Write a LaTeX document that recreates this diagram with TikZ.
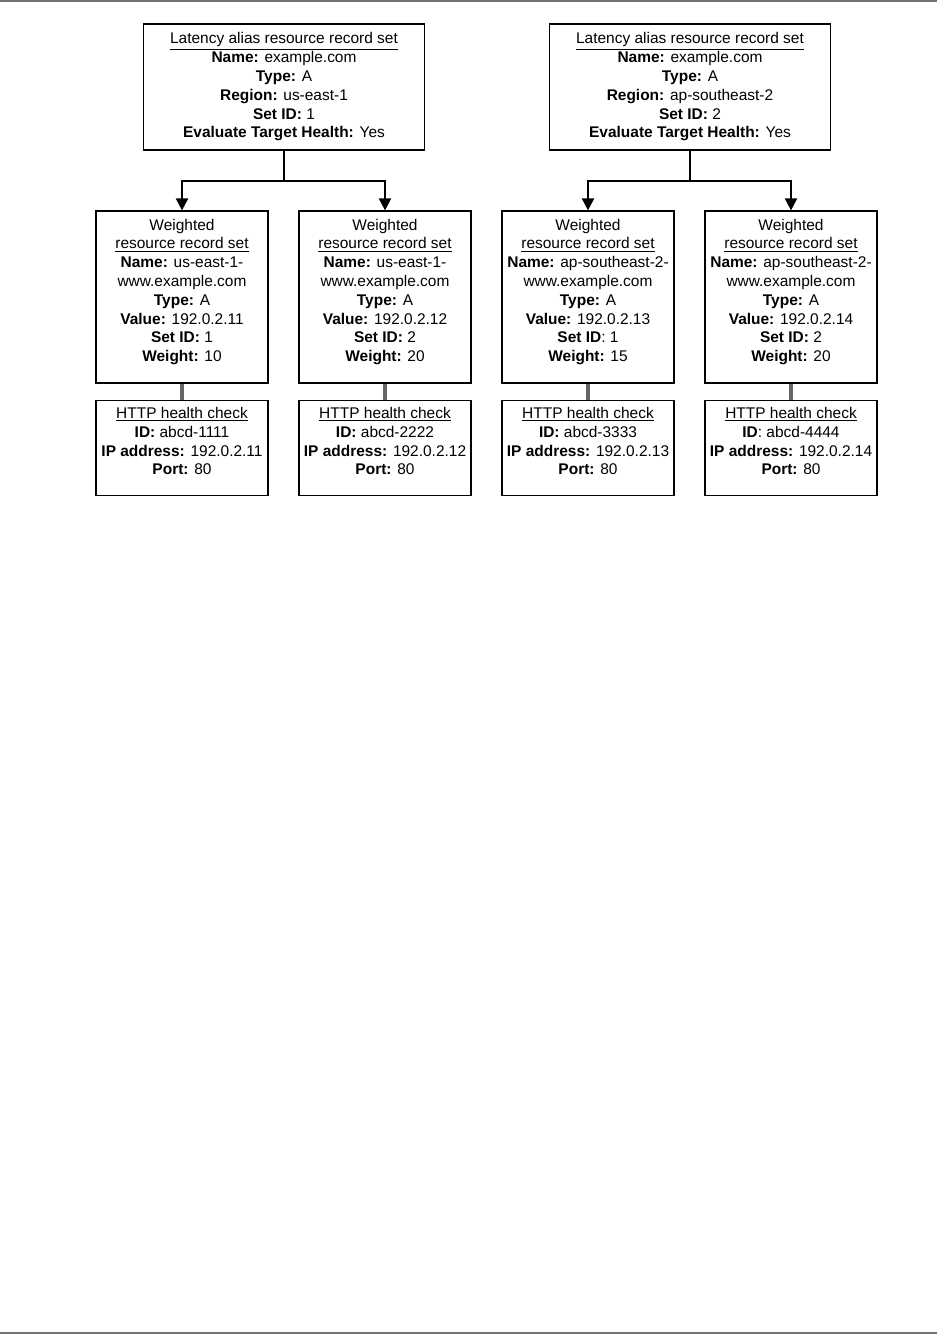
\documentclass[tikz,border=0pt]{standalone}
\usepackage{fontspec}
\setmainfont{Liberation Sans}
\usetikzlibrary{arrows.meta, positioning}

\begin{document}
\begin{tikzpicture}[
    x=0.75pt, y=-0.75pt,
    font=\fontsize{11.6}{14.1}\selectfont,
    % 1. Record boxes
    lat/.style={draw=black, line width=0.9pt, minimum width=211pt, minimum height=94.5pt, align=center, inner sep=0pt},
    % extra text depth keeps the lines near the top of the box
    wgt/.style={draw=black, line width=0.9pt, minimum width=129pt, minimum height=129pt, align=center, inner sep=0pt, text depth=10pt},
    chk/.style={draw=black, line width=0.9pt, minimum width=129pt, minimum height=71.25pt, align=center, inner sep=0pt, text depth=10pt},
    % 2. Connectors
    arr/.style={line width=1.5pt, -{Triangle[length=9pt,width=9pt]}},
    link/.style={line width=3pt, draw=black!60},
    rule/.style={line width=2pt, draw=black!55}
]
\useasboundingbox (0,0) rectangle (937,1334);

% Page rules
\draw[rule] (0,1) -- (937,1);
\draw[rule] (0,1333) -- (937,1333);

% ===============================
% Tree 1: us-east-1
% ===============================
\begin{scope}
    \node[lat] (lat1) at (284, 87) {\underline{Latency alias resource record set}\\\textbf{Name:} example.com\\\textbf{Type:} A\\\textbf{Region:} us-east-1\\\textbf{Set ID:} 1\\\textbf{Evaluate Target Health:} Yes};

    \node[wgt] (wgt1) at (182, 297) {Weighted\\\underline{resource record set}\\\textbf{Name:} us-east-1-\\www.example.com\\\textbf{Type:} A\\\textbf{Value:} 192.0.2.11\\\textbf{Set ID:} 1\\\textbf{Weight:} 10};
    \node[wgt] (wgt2) at (385, 297) {Weighted\\\underline{resource record set}\\\textbf{Name:} us-east-1-\\www.example.com\\\textbf{Type:} A\\\textbf{Value:} 192.0.2.12\\\textbf{Set ID:} 2\\\textbf{Weight:} 20};

    \node[chk, below=12pt of wgt1] (chk1) {\underline{HTTP health check}\\\textbf{ID:} abcd-1111\\\textbf{IP address:} 192.0.2.11\\\textbf{Port:} 80};
    \node[chk, below=12pt of wgt2] (chk2) {\underline{HTTP health check}\\\textbf{ID:} abcd-2222\\\textbf{IP address:} 192.0.2.12\\\textbf{Port:} 80};

    % Latency record splits into weighted records
    \draw[arr] (lat1.south) -- ++(0,30) -| (wgt1.north);
    \draw[arr] (lat1.south) -- ++(0,30) -| (wgt2.north);

    % Health checks
    \draw[link] (wgt1.south) -- (chk1.north);
    \draw[link] (wgt2.south) -- (chk2.north);
\end{scope}

% ===============================
% Tree 2: ap-southeast-2
% ===============================
\begin{scope}[shift={(406,0)}]
    \node[lat] (lat2) at (284, 87) {\underline{Latency alias resource record set}\\\textbf{Name:} example.com\\\textbf{Type:} A\\\textbf{Region:} ap-southeast-2\\\textbf{Set ID:} 2\\\textbf{Evaluate Target Health:} Yes};

    \node[wgt] (wgt3) at (182, 297) {Weighted\\\underline{resource record set}\\\textbf{Name:} ap-southeast-2-\\www.example.com\\\textbf{Type:} A\\\textbf{Value:} 192.0.2.13\\\textbf{Set ID}: 1\\\textbf{Weight:} 15};
    \node[wgt] (wgt4) at (385, 297) {Weighted\\\underline{resource record set}\\\textbf{Name:} ap-southeast-2-\\www.example.com\\\textbf{Type:} A\\\textbf{Value:} 192.0.2.14\\\textbf{Set ID:} 2\\\textbf{Weight:} 20};

    \node[chk, below=12pt of wgt3] (chk3) {\underline{HTTP health check}\\\textbf{ID:} abcd-3333\\\textbf{IP address:} 192.0.2.13\\\textbf{Port:} 80};
    \node[chk, below=12pt of wgt4] (chk4) {\underline{HTTP health check}\\\textbf{ID}: abcd-4444\\\textbf{IP address:} 192.0.2.14\\\textbf{Port:} 80};

    % Latency record splits into weighted records
    \draw[arr] (lat2.south) -- ++(0,30) -| (wgt3.north);
    \draw[arr] (lat2.south) -- ++(0,30) -| (wgt4.north);

    % Health checks
    \draw[link] (wgt3.south) -- (chk3.north);
    \draw[link] (wgt4.south) -- (chk4.north);
\end{scope}

\end{tikzpicture}
\end{document}
